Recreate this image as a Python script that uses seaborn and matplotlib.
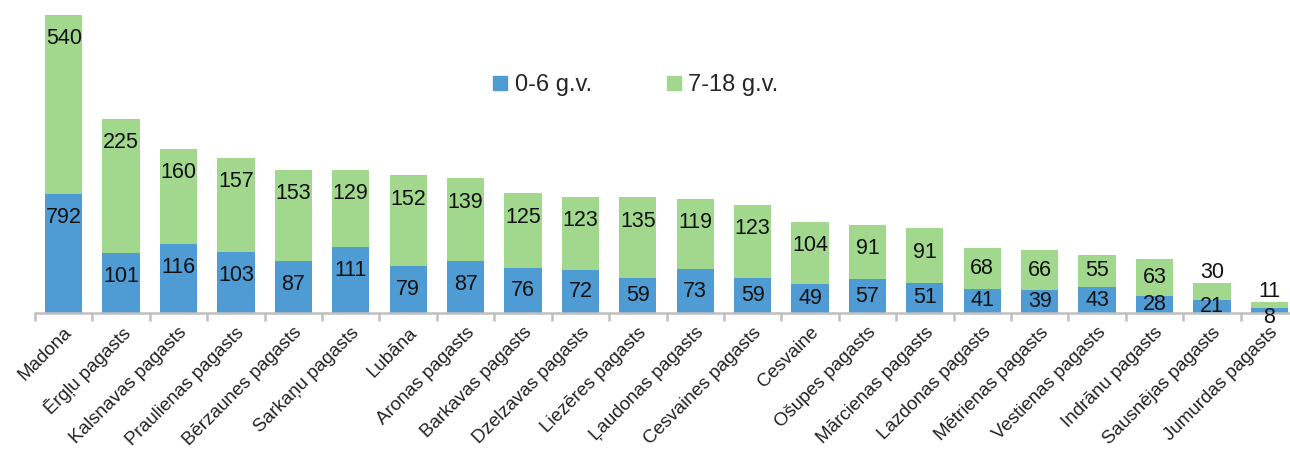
import matplotlib
matplotlib.use("Agg")
import matplotlib.pyplot as plt
import pandas as pd
import seaborn as sns
from matplotlib.lines import Line2D

# Data
places = [
    "Madona", "Ērgļu pagasts", "Kalsnavas pagasts", "Praulienas pagasts",
    "Bērzaunes pagasts", "Sarkaņu pagasts", "Lubāna", "Aronas pagasts",
    "Barkavas pagasts", "Dzelzavas pagasts", "Liezēres pagasts",
    "Ļaudonas pagasts", "Cesvaines pagasts", "Cesvaine", "Ošupes pagasts",
    "Mārcienas pagasts", "Lazdonas pagasts", "Mētrienas pagasts",
    "Vestienas pagasts", "Indrānu pagasts", "Sausnējas pagasts",
    "Jumurdas pagasts",
]
age_0_6 = [792, 101, 116, 103, 87, 111, 79, 87, 76, 72, 59, 73, 59, 49, 57, 51,
           41, 39, 43, 28, 21, 8]
age_7_18 = [540, 225, 160, 157, 153, 129, 152, 139, 125, 123, 135, 119, 123,
            104, 91, 91, 68, 66, 55, 63, 30, 11]
# the reference draws Madona on a compressed scale (broken bar)
madona_drawn = [200, 300]

series_names = ["0-6 g.v.", "7-18 g.v."]
colors = ["#4F9BD3", "#A1D88E"]

df = pd.DataFrame({"place": places, "young": age_0_6, "older": age_7_18})
df["young_h"] = df["young"]
df["older_h"] = df["older"]
df.loc[0, "young_h"] = madona_drawn[0]
df.loc[0, "older_h"] = madona_drawn[1]
df["total_h"] = df["young_h"] + df["older_h"]

sns.set_style("white")
plt.rcParams["font.family"] = ["Liberation Sans", "DejaVu Sans"]

fig = plt.figure(figsize=(12.9, 4.55), dpi=100)
ax = fig.add_axes([35 / 1290, 142 / 455, 1263 / 1290, 298 / 455])

sns.barplot(data=df, x="place", y="total_h", color=colors[1], width=0.65,
            saturation=1, linewidth=0, ax=ax)
sns.barplot(data=df, x="place", y="young_h", color=colors[0], width=0.65,
            saturation=1, linewidth=0, ax=ax)

ax.set_ylim(0, 500)
ax.set_xlim(-0.5, 21.5)

# value labels, placed near the inside end of each segment
for i, row in df.iterrows():
    h = row["young_h"]
    if h < 10:
        y = -8
    else:
        y = h - min(40, h / 2)
    ax.text(i, y, str(row["young"]), ha="center", va="center", fontsize=15.5,
            color="#111111", clip_on=False)
    h2 = row["older_h"]
    top = row["total_h"]
    if h2 < 35:
        y2 = top + 17
    else:
        y2 = top - min(40, h2 / 2)
    ax.text(i, y2, str(row["older"]), ha="center", va="center", fontsize=15.5,
            color="#111111", clip_on=False)

for side in ["left", "top", "right"]:
    ax.spines[side].set_visible(False)
ax.spines["bottom"].set_color("#BFBFBF")
ax.spines["bottom"].set_linewidth(1.8)
ax.set_yticks([])
ax.set_xlabel("")
ax.set_ylabel("")

ax.set_xticks(range(len(places)))
ax.set_xticklabels(places, rotation=45, ha="right", rotation_mode="anchor",
                   fontsize=13.5, color="#222222")
ax.set_xticks([i - 0.5 for i in range(len(places) + 1)], minor=True)
ax.tick_params(axis="x", which="major", length=0, pad=8)
ax.tick_params(axis="x", which="minor", length=6, width=1.8, color="#BFBFBF",
               bottom=True)

handles = [Line2D([0], [0], marker="s", linestyle="", markersize=10,
                  markerfacecolor=c, markeredgecolor=c) for c in colors]
ax.legend(handles, series_names, loc="center", bbox_to_anchor=(0.474, 0.765),
          ncol=2, frameon=False, fontsize=17, handletextpad=0.1,
          columnspacing=3.0, handlelength=1.0)

fig.savefig("out.png", dpi=100)
